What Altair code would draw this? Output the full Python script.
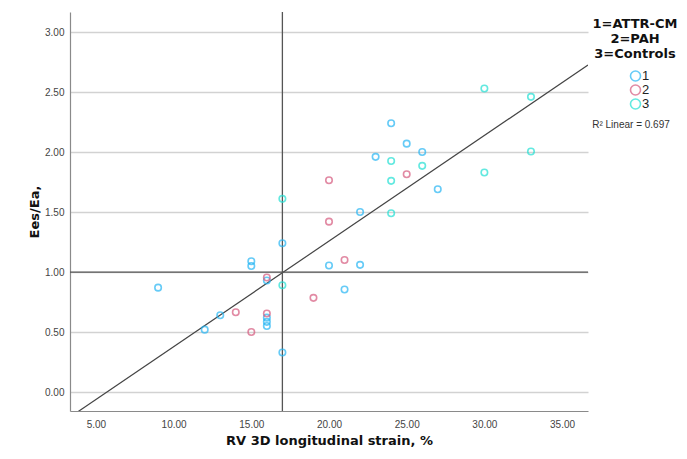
import altair as alt
import pandas as pd

# ---- data ----
g1_x = [9, 12, 13, 15, 15, 16, 16, 16, 16, 17, 17, 20, 21, 22, 22, 23, 24, 25, 26, 27]
g1_y = [0.87, 0.52, 0.64, 1.09, 1.05, 0.93, 0.62, 0.585, 0.55, 1.24, 0.33, 1.055, 0.855, 1.50, 1.06, 1.96, 2.24, 2.07, 2.00, 1.69]

g2_x = [14, 15, 16, 16, 19, 20, 20, 21, 25]
g2_y = [0.665, 0.50, 0.955, 0.655, 0.785, 1.765, 1.42, 1.10, 1.815]

g3_x = [17, 17, 24, 24, 24, 26, 30, 30, 33, 33]
g3_y = [1.61, 0.89, 1.925, 1.76, 1.49, 1.885, 2.53, 1.83, 2.46, 2.005]

groups = ["1", "2", "3"]
group_colors = ["#26b6f4", "#d65a7e", "#22e0d4"]
legend_title = ["1=ATTR-CM", "2=PAH", "3=Controls"]

fit_intercept = -0.502
fit_slope = 0.0880
r2_label = "R² Linear = 0.697"

ref_x = 17
ref_y = 1.0

x_domain = [3.33, 36.67]
y_domain = [-0.158, 3.167]
x_ticks = [5, 10, 15, 20, 25, 30, 35]
y_ticks = [0, 0.5, 1.0, 1.5, 2.0, 2.5, 3.0]

x_title = "RV 3D longitudinal strain, %"
y_title = "Ees/Ea,"

# ---- tables ----
pts = pd.concat([
    pd.DataFrame({"strain": g1_x, "ratio": g1_y, "group": "1"}),
    pd.DataFrame({"strain": g2_x, "ratio": g2_y, "group": "2"}),
    pd.DataFrame({"strain": g3_x, "ratio": g3_y, "group": "3"}),
], ignore_index=True)

fit = pd.DataFrame({
    "strain": x_domain,
    "ratio": [fit_intercept + fit_slope * v for v in x_domain],
})

LABEL_FONT = "Liberation Sans"
TITLE_FONT = "DejaVu Sans"

xs = alt.Scale(domain=x_domain, nice=False, zero=False)
ys = alt.Scale(domain=y_domain, nice=False, zero=False)

x_axis = alt.Axis(values=x_ticks, format=".2f", grid=False, ticks=False,
                  title=x_title, labelPadding=8, titlePadding=5)
y_axis = alt.Axis(values=y_ticks, format=".2f", grid=True, ticks=False,
                  title=y_title, labelPadding=6, titlePadding=3)

base_x = alt.X("strain:Q", scale=xs, axis=x_axis)
base_y = alt.Y("ratio:Q", scale=ys, axis=y_axis)

fit_line = alt.Chart(fit).mark_line(color="#444444", strokeWidth=1.2, clip=True).encode(
    x=base_x, y=base_y
)

vrule = alt.Chart(pd.DataFrame({"strain": [ref_x]})).mark_rule(
    color="#555555", strokeWidth=1.3
).encode(x=alt.X("strain:Q", scale=xs))

hrule = alt.Chart(pd.DataFrame({"ratio": [ref_y]})).mark_rule(
    color="#555555", strokeWidth=1.3
).encode(y=alt.Y("ratio:Q", scale=ys))

points = alt.Chart(pts).mark_point(filled=False, size=42, strokeWidth=1.6, shape="circle").encode(
    x=base_x,
    y=base_y,
    color=alt.Color(
        "group:N",
        scale=alt.Scale(domain=groups, range=group_colors),
        legend=alt.Legend(
            title=legend_title,
            orient="none",
            legendX=523,
            legendY=6,
            titleAnchor="middle",
            titleAlign="center",
            titleFontSize=13,
            titleFont=TITLE_FONT,
            titleFontWeight="bold",
            titleColor="#111111",
            titleLineHeight=15,
            titlePadding=8,
            symbolType="circle",
            symbolSize=100,
            symbolStrokeWidth=1.6,
            symbolOffset=9,
            labelFontSize=13,
            labelFont=LABEL_FONT,
            labelColor="#222222",
            labelOffset=0,
            rowPadding=0,
            clipHeight=14,
            padding=0,
        ),
    ),
)

r2_text = alt.Chart(pd.DataFrame({"label": [r2_label]})).mark_text(
    fontSize=10, font=LABEL_FONT, color="#333333", align="center", baseline="middle"
).encode(
    text="label:N",
    x=alt.value(561),
    y=alt.value(113),
)

chart = alt.layer(fit_line, vrule, hrule, points, r2_text).properties(
    width=518,
    height=399,
    autosize=alt.AutoSizeParams(type="none"),
    padding={"left": 62, "top": 4, "right": 90, "bottom": 38},
    background="white",
).configure_view(stroke=None).configure_axis(
    labelFont=LABEL_FONT,
    labelFontSize=10,
    labelColor="#444444",
    titleFont=TITLE_FONT,
    titleFontSize=13,
    titleFontWeight="bold",
    titleColor="#111111",
    domainColor="#8a8a8a",
    domainWidth=1.2,
    gridColor="#d2d2d2",
    gridWidth=1.4,
)

chart.save("out.html", embed_options={"renderer": "svg", "actions": False})
